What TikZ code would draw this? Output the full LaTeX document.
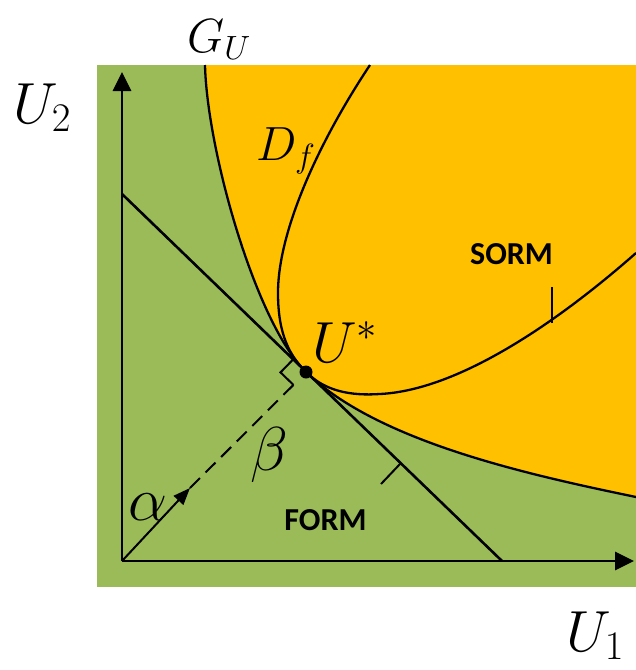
\RequirePackage{fix-cm}
\documentclass[tikz,border=0pt]{standalone}
\usepackage{fontspec}
\newfontfamily\calib{Carlito}
\usetikzlibrary{arrows.meta,calc}
\definecolor{grn}{HTML}{9BBB59}
\definecolor{org}{HTML}{FFC000}
\tikzset{
  curve/.style={line width=2.3pt},
  axis/.style={line width=2.8pt,-{Triangle[length=19pt,width=18pt]}},
  biglbl/.style={inner sep=0pt,anchor=base west,font=\fontsize{58}{60}\selectfont},
  midlbl/.style={inner sep=0pt,anchor=base west,font=\fontsize{48}{50}\selectfont},
  greeklbl/.style={inner sep=0pt,anchor=base west,font=\fontsize{62}{64}\selectfont},
  methodlbl/.style={inner sep=0pt,font=\calib\bfseries\fontsize{32}{34}\selectfont},
  tick/.style={line width=2pt},
}
\begin{document}
\begin{tikzpicture}[x=1pt,y=-1pt]
\useasboundingbox (0,0) rectangle (636,670);
% coordinates
\coordinate (O) at (122,561);
\coordinate (Ytip) at (122,72);
\coordinate (Xtip) at (634,561);
\coordinate (L1) at (122,194);
\coordinate (L2) at (502,561);
\coordinate (Us) at (306,372);
\coordinate (A) at (190,488);
\coordinate (P1) at ($(Us)!18pt!(L1)$);
\coordinate (P2) at ($(Us)!18pt!(O)$);
\coordinate (C) at ($(P1)+(P2)-(Us)$);
\coordinate (T0) at (400,464);
\coordinate (T1) at (381,484);
\coordinate (S0) at (552,323);
\coordinate (S1) at (552,287);
\coordinate (GUtop) at (205,65);
\coordinate (GUend) at (636,497);
\coordinate (DFtop) at (370,65);
\coordinate (DFleft) at (278,293);
\coordinate (DFlow) at (380,394);
\coordinate (DFend) at (636,253);
% background
\fill[grn] (97,65) rectangle (636,587);
% failure domain
\fill[org] (GUtop) .. controls (207,150) and (255.7,323.2) .. (Us)
  .. controls (378,442) and (530,475) .. (GUend) -- (636,65) -- cycle;
% G_U limit state
\draw[curve] (GUtop) .. controls (207,150) and (255.7,323.2) .. (Us)
  .. controls (378,442) and (530,475) .. (GUend);
% D_f (SORM)
\draw[curve] (DFtop) .. controls (320,140) and (278,230) .. (DFleft)
  .. controls (278,335) and (290,356) .. (Us)
  .. controls (325,391) and (350,396) .. (DFlow)
  .. controls (460,390) and (560,320) .. (DFend);
% FORM tangent line
\draw[line width=2.6pt] (L1) -- (L2);
% axes
\draw[axis] (O) -- (Ytip);
\draw[axis] (O) -- (Xtip);
% alpha / beta
\draw[line width=2pt,-{Triangle[length=17pt,width=13pt]}] (O) -- (A);
\draw[line width=2pt,dash pattern=on 14pt off 8pt] (A) -- (P2);
% right angle mark
\draw[tick] (P1) -- (C) -- (P2);
% design point
\fill (Us) circle (6.5pt);
% ticks
\draw[tick] (T0) -- (T1);
\draw[tick] (S0) -- (S1);
% labels
\node[midlbl] (lGU) at (187,52) {$G_U$};
\node[biglbl] (lU2) at (13,123) {$U_2$};
\node[biglbl] (lU1) at (566,651) {$U_1$};
\node[midlbl] (lDf) at (256,160) {$D_f$};
\node[biglbl] (lUs) at (312,362) {$U^*$};
\node[greeklbl] (lbeta) at (250,470) {$\beta$};
\node[greeklbl] (lalpha) at (128,520) {$\alpha$};
\node[methodlbl] (lform) at (325.5,520) {FORM};
\node[methodlbl] (lsorm) at (511.5,254) {SORM};
\end{tikzpicture}
\end{document}
